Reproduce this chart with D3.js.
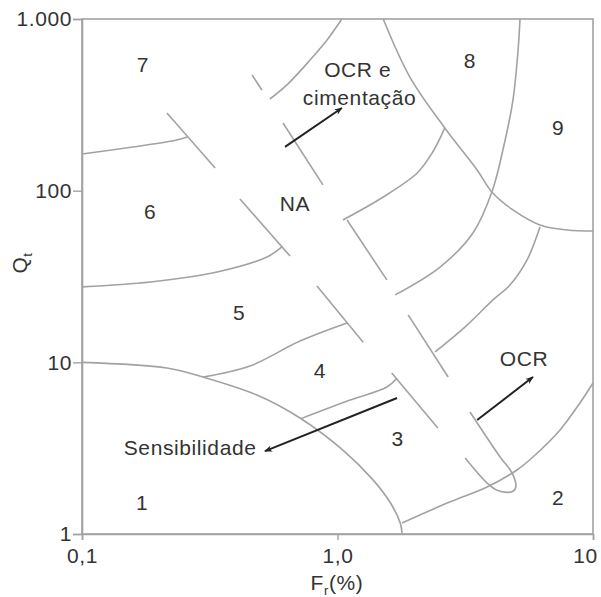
<!DOCTYPE html>
<html>
<head>
<meta charset="utf-8">
<script src="https://cdn.jsdelivr.net/npm/d3@7"></script>
<style>
  body { margin: 0; background: #fff; }
  svg text { font-family: "Liberation Sans", Arial, sans-serif; fill: #333; letter-spacing: 0.6px; }
</style>
</head>
<body>
<svg id="chart"></svg>
<script>
var width = 601,
    height = 597;

// axis ticks
var frTicks = [0.1, 1, 10],
    frTickLabels = ["0,1", "1,0", "10"];
var qtTicks = [1, 10, 100, 1000],
    qtTickLabels = ["1", "10", "100", "1.000"];

// zone boundaries [Fr (%), Qt]
var zone1Bound = [[0.1,10],[0.215,9.27],[0.298,8.21],[0.484,6.45],[0.713,4.74],[1.05,3.08],[1.38,2.06],[1.61,1.52],[1.76,1.16],[1.79,1.0]];
var zone2Bound = [[1.79,1.16],[2.76,1.54],[3.85,1.88],[5.04,2.36],[5.82,2.81],[7.43,4.04],[8.89,5.80],[10,7.58]];
var b34Left = [[0.72,4.7],[1.12,6.03],[1.56,7.18],[1.71,8.11]];
var b45Left = [[0.298,8.21],[0.454,9.52],[0.713,13.3],[1.09,16.95]];
var b56Left = [[0.1,27.5],[0.185,29.4],[0.338,33.6],[0.530,41.1],[0.606,47.0]];
var b67Left = [[0.1,163.5],[0.158,179.7],[0.235,197.3],[0.258,205.4]];
var b67Right = [[0.544,342],[0.634,413],[0.781,577],[0.910,755],[1.04,1000]];
var b56Right = [[1.05,67.5],[1.51,91.9],[2.05,126.7],[2.36,168],[2.63,232]];
var b45Right = [[1.68,24.7],[2.52,35.9],[3.39,56.7],[4.02,98.2],[4.44,172.6],[4.86,337],[5.09,660],[5.18,1000]];
var b34Right = [[2.41,11.5],[3.16,16.1],[4.06,23.1],[4.73,28.2],[5.52,39.5],[6.20,61.4]];
var zone8Bound = [[1.51,1000],[1.92,459],[2.63,232],[3.52,132],[4.02,98.2],[4.86,77.2],[6.20,63.1],[7.91,59.0],[10,58.2]];

// normally consolidated band (NA) edges
var naLower = [
  [[0.215,283.5],[0.332,135.5]],
  [[0.415,89.4],[0.652,41.6]],
  [[0.831,27.8],[1.26,13.1]],
  [[1.63,8.66],[2.47,4.14]]
];
var naUpper = [
  [[0.463,472],[0.506,386]],
  [[0.612,248],[0.877,108]],
  [[1.09,67.5],[1.56,30.2]],
  [[1.89,18.9],[2.71,8.21]]
];
var naLoop = [[3.30,5.14],[4.33,2.81],[4.82,2.27],[4.99,1.88],[4.82,1.76],[4.21,1.80],[3.85,1.98],[3.16,2.77]];

// arrows
var arrowCim = [[0.623,180],[1.04,303]];
var arrowSens = [[1.71,6.20],[0.520,3.04]];
var arrowOCR = [[3.52,4.61],[5.82,8.21]];

// labels
var zoneNames = ["1","2","3","4","5","6","7","8","9","NA"];
var zoneFr = [0.172, 7.30, 1.72, 0.854, 0.412, 0.185, 0.173, 3.30, 7.30, 0.682];
var zoneQt = [1.52, 1.64, 3.62, 9.02, 19.4, 76.1, 540, 577, 232, 84.7];

var noteTexts = ["OCR e", "cimentação", "OCR", "Sensibilidade"];
var noteFr = [1.20, 1.22, 5.37, 0.265];
var noteQt = [505, 351, 10.6, 3.21];

var x = d3.scaleLog().domain([0.1, 10]).range([82, 593]);
var y = d3.scaleLog().domain([1, 1000]).range([534, 19]);

var svg = d3.select("#chart")
    .attr("width", width)
    .attr("height", height);

var grey = "#a2a2a2";

// frame
svg.append("rect")
    .attr("x", x(0.1)).attr("y", y(1000))
    .attr("width", x(10) - x(0.1))
    .attr("height", y(1) - y(1000))
    .attr("fill", "none")
    .attr("stroke", grey)
    .attr("stroke-width", 1.6);

var xAxis = svg.append("g")
    .attr("transform", "translate(0," + y(1) + ")")
    .call(d3.axisBottom(x).tickValues(frTicks).tickSize(6).tickPadding(8)
        .tickFormat(function(d, i) { return frTickLabels[i]; }));

var yAxis = svg.append("g")
    .attr("transform", "translate(" + x(0.1) + ",0)")
    .call(d3.axisLeft(y).tickValues(qtTicks).tickSize(9).tickPadding(1)
        .tickFormat(function(d, i) { return qtTickLabels[i]; }));

[xAxis, yAxis].forEach(function(a) {
  a.select(".domain").attr("stroke", grey).attr("stroke-width", 1.6);
  a.selectAll(".tick line").attr("stroke", grey).attr("stroke-width", 1.4);
  a.selectAll(".tick text").attr("font-size", 21).attr("fill", "#333")
    .attr("font-family", "Liberation Sans, Arial, sans-serif");
});
xAxis.selectAll(".tick text").filter(function(d) { return d === 10; }).attr("dx", -8);

var line = d3.line()
    .x(function(d) { return x(d[0]); })
    .y(function(d) { return y(d[1]); })
    .curve(d3.curveCatmullRom.alpha(0.5));

var curves = [zone1Bound, zone2Bound, b34Left, b45Left, b56Left, b67Left,
              b67Right, b56Right, b45Right, b34Right, zone8Bound, naLoop]
    .concat(naLower).concat(naUpper);

svg.append("g").selectAll("path")
    .data(curves)
  .enter().append("path")
    .attr("d", line)
    .attr("fill", "none")
    .attr("stroke", grey)
    .attr("stroke-width", 1.6);

// arrowhead
svg.append("defs").append("marker")
    .attr("id", "head")
    .attr("viewBox", "0 0 10 10")
    .attr("refX", 9).attr("refY", 5)
    .attr("markerWidth", 8).attr("markerHeight", 8)
    .attr("markerUnits", "userSpaceOnUse")
    .attr("orient", "auto")
  .append("path")
    .attr("d", "M0,1 L10,5 L0,9 L3,5 Z")
    .attr("fill", "#222");

svg.append("g").selectAll("path")
    .data([arrowCim, arrowSens, arrowOCR])
  .enter().append("path")
    .attr("d", d3.line().x(function(d) { return x(d[0]); }).y(function(d) { return y(d[1]); }))
    .attr("stroke", "#222")
    .attr("stroke-width", 2)
    .attr("fill", "none")
    .attr("marker-end", "url(#head)");

svg.append("g").selectAll("text")
    .data(zoneNames)
  .enter().append("text")
    .attr("x", function(d, i) { return x(zoneFr[i]); })
    .attr("y", function(d, i) { return y(zoneQt[i]); })
    .attr("dy", "0.36em")
    .attr("text-anchor", "middle")
    .attr("font-size", 21)
    .text(function(d) { return d; });

svg.append("g").selectAll("text")
    .data(noteTexts)
  .enter().append("text")
    .attr("x", function(d, i) { return x(noteFr[i]); })
    .attr("y", function(d, i) { return y(noteQt[i]); })
    .attr("dy", "0.36em")
    .attr("text-anchor", "middle")
    .attr("font-size", 21)
    .text(function(d) { return d; });

// axis titles
var qt = svg.append("text")
    .attr("transform", "translate(27,263) rotate(-90)")
    .attr("text-anchor", "middle")
    .attr("font-size", 21);
qt.append("tspan").text("Q");
qt.append("tspan").attr("font-size", 13).attr("dy", 5).text("t");

var fr = svg.append("text")
    .attr("x", 337).attr("y", 590)
    .attr("text-anchor", "middle")
    .attr("font-size", 21);
fr.append("tspan").text("F");
fr.append("tspan").attr("font-size", 13).attr("dy", 5).text("r");
fr.append("tspan").attr("dy", -5).text("(%)");
</script>
</body>
</html>
